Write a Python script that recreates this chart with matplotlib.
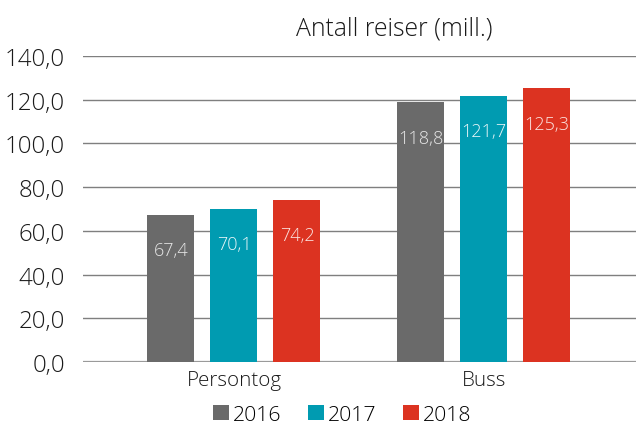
import matplotlib
matplotlib.use("Agg")
import matplotlib.pyplot as plt
import numpy as np

plt.rcParams["font.family"] = ["Open Sans", "DejaVu Sans"]
plt.rcParams["font.weight"] = "light"

# Data
categories = ["Persontog", "Buss"]
years = ["2016", "2017", "2018"]
values = {
    "2016": [67.4, 118.8],
    "2017": [70.1, 121.7],
    "2018": [74.2, 125.3],
}
colors = ["#6a6a6a", "#009bb1", "#dc3321"]
label_colors = ["#e6e6e6", "#e8f6f8", "#fbe3e0"]

fig = plt.figure(figsize=(6.36, 4.27), dpi=100)
ax = fig.add_axes([0.1305, 0.150, 0.8695, 0.7165])

x = np.arange(len(categories))
width = 0.188
step = 0.252

for i, yr in enumerate(years):
    pos = x + (i - 1) * step
    bars = ax.bar(pos, values[yr], width, color=colors[i], label=yr, zorder=3)
    for b, v in zip(bars, values[yr]):
        ax.text(b.get_x() + b.get_width() / 2, v - 16.2, f"{v:.1f}".replace(".", ","),
                ha="center", va="center", color=label_colors[i], fontsize=13, zorder=4)

ax.set_ylim(0, 140)
ax.set_xlim(-0.604, 1.608)
yt = np.arange(0, 141, 20)
ax.set_yticks(yt)
ax.set_yticklabels([f"{t:.1f}".replace(".", ",") for t in yt], fontsize=17.3, color="#1a1a1a")
ax.set_xticks(x)
ax.set_xticklabels(categories, fontsize=14.8, color="#1a1a1a")
ax.tick_params(axis="both", length=0)
ax.tick_params(axis="y", pad=13)
ax.tick_params(axis="x", pad=6)

for t in yt:
    ax.axhline(t, color="#7f7f7f" if t else "#9a9a9a", lw=1.0 if t else 1.6, zorder=1)
for s in ax.spines.values():
    s.set_visible(False)

fig.text(0.62, 0.932, "Antall reiser (mill.)", ha="center", va="center",
         fontsize=17.8, color="#1a1a1a")

fig.legend(loc="center", bbox_to_anchor=(0.538, 0.026), ncol=3, frameon=False,
           fontsize=15.3, handlelength=0.75, handleheight=0.75, handletextpad=0.2,
           columnspacing=1.25)

fig.savefig("out.png", dpi=100)
